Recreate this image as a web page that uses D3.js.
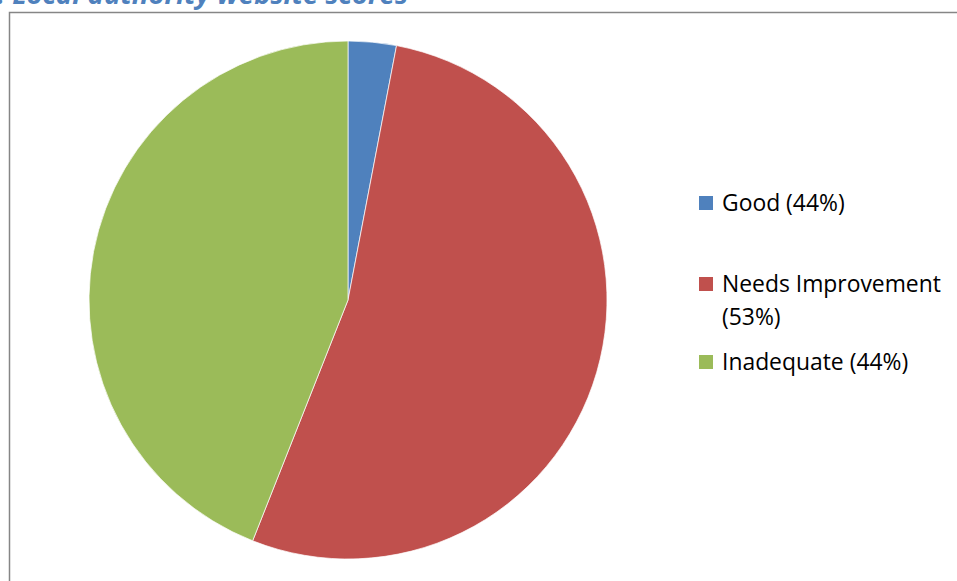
<!DOCTYPE html>
<html><head><meta charset="utf-8">
<script src="https://cdn.jsdelivr.net/npm/d3@7"></script>
<style>html,body{margin:0;padding:0;background:#fff;overflow:hidden}</style>
</head><body>
<svg id="c" width="957" height="581"></svg>
<script>
const categories = ["Good", "Needs Improvement", "Inadequate"];
const values = [3, 53, 44];
const legendLabels = [["Good (44%)"], ["Needs Improvement", "(53%)"], ["Inadequate (44%)"]];
const colors = ["#4F81BD", "#C0504D", "#9BBB59"];
const titlePrefix = "Figure 1: ";
const titleMain = "Local authority website scores";

const svg = d3.select("#c");
// chart frame
svg.append("path")
  .attr("d", "M9.5,590 L9.5,12.5 L970,12.5")
  .attr("fill", "none").attr("stroke", "#868686").attr("stroke-width", 1.5);

// title (cut off at top, as in the reference)
const title = svg.append("text")
  .attr("x", 408).attr("y", 4)
  .attr("text-anchor", "end")
  .attr("font-family", "'Open Sans', 'Noto Sans', sans-serif")
  .attr("font-style", "italic").attr("font-weight", "bold")
  .attr("font-size", 20).attr("fill", "#4F81BD");
title.append("tspan").text(titlePrefix);
const mainSpan = title.append("tspan").text(titleMain);
const mw = mainSpan.node().getComputedTextLength();
title.attr("font-size", 20 * 396 / mw);

const cx = 348, cy = 300, r = 259;
const pie = d3.pie().sort(null).value(d => d)(values);
const arc = d3.arc().innerRadius(0).outerRadius(r);
const color = d3.scaleOrdinal().domain(categories).range(colors);
svg.append("g").attr("transform", `translate(${cx},${cy})`)
  .selectAll("path").data(pie).join("path")
  .attr("d", arc)
  .attr("fill", (d, i) => color(categories[i]))
  .attr("stroke", "#fff").attr("stroke-width", 0.7);

// legend
const baselines = [[211], [292, 325], [370]];
const lg = svg.append("g");
categories.forEach((c, i) => {
  const b = baselines[i][0];
  lg.append("rect").attr("x", 699).attr("y", b - 15).attr("width", 14).attr("height", 14)
    .attr("fill", color(c));
  legendLabels[i].forEach((line, j) => {
    lg.append("text").attr("class", "lt")
      .attr("x", 722).attr("y", baselines[i][j])
      .attr("font-family", "'Open Sans', 'Noto Sans', sans-serif")
      .attr("font-size", 20).attr("fill", "#000")
      .text(line);
  });
});
// fit font size so "Needs Improvement" spans ~219px
const probe = lg.selectAll("text.lt").filter(function(){return this.textContent === "Needs Improvement";}).node();
const w = probe.getComputedTextLength();
const fs = 20 * 219 / w;
lg.selectAll("text.lt").attr("font-size", fs);
</script>
</body></html>
